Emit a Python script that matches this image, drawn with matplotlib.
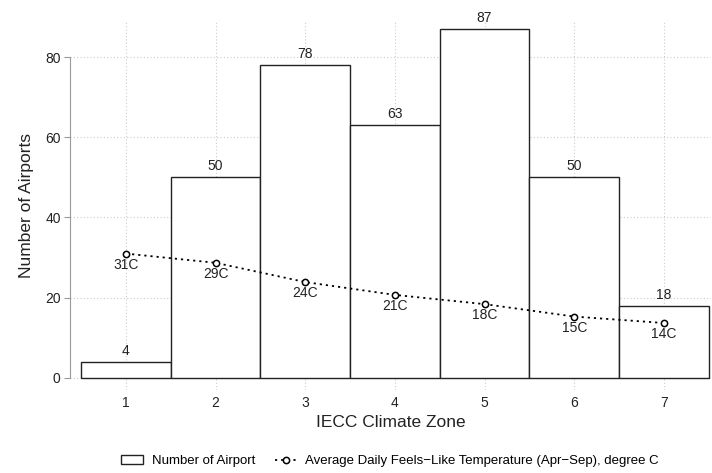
import matplotlib
matplotlib.use('Agg')
import matplotlib.pyplot as plt

plt.rcParams['font.family'] = ['Liberation Sans', 'DejaVu Sans']

zones = [1, 2, 3, 4, 5, 6, 7]
airports = [4, 50, 78, 63, 87, 50, 18]
temps = [31.0, 28.7, 23.9, 20.7, 18.4, 15.3, 13.7]
temp_labels = ['31C', '29C', '24C', '21C', '18C', '15C', '14C']

fig = plt.figure(figsize=(7.12, 4.73), dpi=100)
ax = fig.add_axes([0.0989, 0.1755, 0.899, 0.782])

grid_kw = dict(color='#cccccc', linestyle=(0, (1, 2)), linewidth=0.8, zorder=0)
for z in zones:
    ax.axvline(z, **grid_kw)
for yv in [0, 20, 40, 60, 80]:
    ax.axhline(yv, **grid_kw)

ax.bar(zones, airports, width=1.0, color='white', edgecolor='#222222',
       linewidth=1.0, zorder=2, label='Number of Airport')
for z, v in zip(zones, airports):
    ax.annotate(str(v), (z, v), xytext=(0, 3), textcoords='offset points',
                ha='center', va='bottom', fontsize=10, color='#222222',
                annotation_clip=False)

ax.plot(zones, temps, color='black', linestyle=(0, (1.2, 2.2)), linewidth=1.3,
        marker='o', markersize=4.5, markerfacecolor='white', markeredgecolor='black',
        markeredgewidth=1.1, zorder=4,
        label='Average Daily Feels\u2212Like Temperature (Apr\u2212Sep), degree C')
for z, t, s in zip(zones, temps, temp_labels):
    ax.annotate(s, (z, t), xytext=(0, -3), textcoords='offset points',
                ha='center', va='top', fontsize=10, color='#222222')

ax.set_xlim(0.38, 7.52)
ax.set_ylim(-3, 89.2)
ax.set_xticks(zones)
ax.set_yticks([0, 20, 40, 60, 80])
ax.tick_params(axis='x', length=0, pad=4, labelsize=10, labelcolor='#222222')
ax.tick_params(axis='y', length=4, width=0.8, color='#999999', pad=3,
               labelsize=10, labelcolor='#222222')
for side in ['top', 'right', 'bottom']:
    ax.spines[side].set_visible(False)
ax.spines['left'].set_bounds(0, 80)
ax.spines['left'].set_color('#999999')
ax.spines['left'].set_linewidth(0.8)

ax.set_xlabel('IECC Climate Zone', fontsize=12.5, color='#222222', labelpad=4)
ax.set_ylabel('Number of Airports', fontsize=12.5, color='#222222', labelpad=8)

handles, labels = ax.get_legend_handles_labels()
order = [labels.index('Number of Airport'), 1 - labels.index('Number of Airport')]
fig.legend([handles[i] for i in order], [labels[i] for i in order],
           loc='center', bbox_to_anchor=(0.548, 0.025), ncol=2, frameon=False,
           fontsize=9.5, handlelength=1.6, handleheight=0.6, columnspacing=1.5,
           handletextpad=0.7)

fig.savefig('out.png', dpi=100)
